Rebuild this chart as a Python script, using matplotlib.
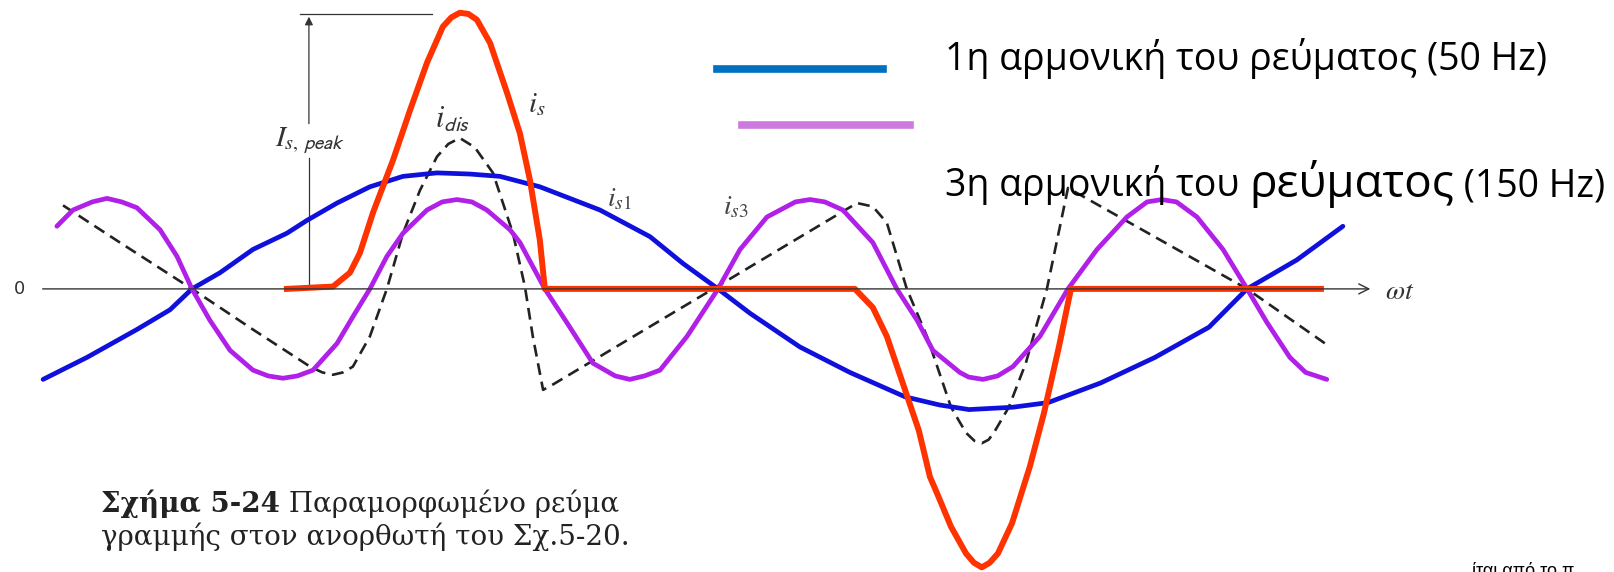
import matplotlib
matplotlib.use('Agg')
import matplotlib.pyplot as plt
from matplotlib.lines import Line2D

plt.rcParams['mathtext.fontset'] = 'stix'

# x: wt in degrees, y: current in p.u. of the fundamental peak
wt_s1 = [-50.8, -35.8, -18.8, -7.5, 0, 9.6, 20.8, 32.4, 39.2, 49.5, 60.7, 72.0, 83.6, 94.8,
         105.1, 118.7, 139.2, 156.3, 167.5, 179.5, 190.4, 207.4, 224.5, 243.3, 255.0, 265.1,
         280.0, 292.1, 310.1, 328.6, 347.0, 360.0, 377.0, 392.7]
i_s1 = [-0.78, -0.59, -0.35, -0.18, 0, 0.14, 0.34, 0.48, 0.59, 0.74, 0.88, 0.97, 1.00, 0.99,
        0.97, 0.88, 0.68, 0.45, 0.22, 0, -0.21, -0.50, -0.72, -0.93, -1.00, -1.04,
        -1.02, -0.98, -0.81, -0.59, -0.33, 0, 0.25, 0.54]

wt_s3 = [-46.1, -40.6, -34.0, -29.0, -24.0, -18.8, -10.9, -5.1, 0, 6.1, 13.0, 20.8, 26.0,
         31.0, 36.0, 41.3, 49.5, 54.9, 60.7, 66.5, 72.0, 80.2, 85.4, 90.4, 95.5, 100.6,
         108.5, 111.9, 120.4, 127.9, 136.8, 144.4, 149.4, 154.4, 159.7, 168.9, 179.5, 187.0,
         196.2, 205.9, 210.9, 215.9, 222.1, 232.3, 240.5, 247.4, 252.8, 262.0, 265.0, 269.9,
         274.9, 280.1, 289.3, 298.9, 308.8, 319.0, 325.9, 330.9, 335.9, 342.9, 351.8, 360.0,
         366.8, 374.6, 380.0, 387.2]
i_s3 = [0.54, 0.68, 0.75, 0.78, 0.75, 0.70, 0.51, 0.28, 0, -0.27, -0.53, -0.70, -0.75,
        -0.77, -0.75, -0.70, -0.47, -0.24, 0, 0.28, 0.48, 0.68, 0.75, 0.77, 0.75, 0.68,
        0.51, 0.40, 0, -0.29, -0.64, -0.75, -0.78, -0.75, -0.70, -0.41, 0, 0.34,
        0.62, 0.75, 0.77, 0.75, 0.68, 0.40, 0, -0.27, -0.53, -0.72, -0.76, -0.78,
        -0.75, -0.67, -0.41, 0, 0.34, 0.62, 0.75, 0.77, 0.75, 0.62, 0.34, 0,
        -0.29, -0.59, -0.72, -0.78]

wt_s = [32.4, 48.1, 53.9, 57.3, 61.8, 68.6, 74.4, 80.2, 85.6, 88.5, 91.4, 94.3, 97.2, 101.7,
        107.5, 111.9, 115.3, 118.7, 120.4, 226.2, 232.3, 237.1, 243.3, 248.0, 251.8, 254.2,
        259.0, 264.1, 266.8, 269.5, 272.2, 275.0, 279.8, 285.9, 290.7, 295.8, 299.9, 385.2]
i_s = [0, 0.02, 0.14, 0.31, 0.66, 1.11, 1.54, 1.95, 2.26, 2.34, 2.38, 2.37, 2.32, 2.12,
       1.69, 1.34, 0.94, 0.42, 0, 0, -0.16, -0.41, -0.87, -1.22, -1.62, -1.76,
       -2.05, -2.28, -2.36, -2.40, -2.36, -2.28, -2.02, -1.53, -1.07, -0.50, 0, 0]

wt_dis = [-44.0, -24.6, 0, 20.8, 40.3, 44.5, 48.1, 51.5, 54.9, 60.7, 66.5, 72.0, 77.8, 83.6,
          87.5, 91.4, 96.5, 102.7, 109.5, 113.6, 116.3, 119.8, 122.1, 226.9, 232.3, 237.1,
          243.9, 250.8, 259.0, 264.1, 267.0, 269.5, 271.8, 273.6, 278.7, 284.5, 291.7,
          298.9, 360.0, 388.3]
i_dis = [0.72, 0.40, 0, -0.35, -0.67, -0.72, -0.74, -0.72, -0.67, -0.41, 0, 0.48, 0.85, 1.14,
         1.25, 1.30, 1.22, 1.00, 0.48, 0.02, -0.41, -0.87, -0.84, 0.74, 0.71, 0.57,
         0, -0.41, -1.02, -1.24, -1.31, -1.33, -1.30, -1.24, -1.02, -0.64, 0,
         0.87, 0, -0.50]

is_peak = 2.37

fig = plt.figure(figsize=(16.14, 5.72), dpi=100)
ax = fig.add_axes([0, 0, 1, 1])
ax.set_xlim(-65.5, 485.2)
ax.set_ylim(-2.44, 2.49)
ax.axis('off')

# wt axis
ax.annotate('', xy=(403, 0), xytext=(-51.9, 0),
            arrowprops=dict(arrowstyle='->', color='#333333', lw=1.0, mutation_scale=18))
ax.text(-58.7, 0, '0', ha='center', va='center', fontsize=13, color='#333333')
ax.text(407, -0.02, r'$\omega t$', ha='left', va='center', fontsize=20, color='#333333')

# I_s,peak dimension
ax.plot([36.8, 81.9], [is_peak, is_peak], color='#333333', lw=0.9)
ax.plot([39.9, 39.9], [0, 1.13], color='#333333', lw=0.9)
ax.annotate('', xy=(39.9, is_peak), xytext=(39.9, 1.40),
            arrowprops=dict(arrowstyle='-|>', color='#333333', lw=0.9, mutation_scale=12))
ax.text(40.3, 1.28, r'$I_{s,\,\mathsf{peak}}$', ha='center', va='center', fontsize=21,
        color='#333333')

ax.plot(wt_dis, i_dis, color='#222222', lw=1.9, dashes=(4.5, 2.6))
ax.plot(wt_s1, i_s1, color='#1010DD', lw=3.4, solid_capstyle='round', solid_joinstyle='round')
ax.plot(wt_s3, i_s3, color='#B020E8', lw=3.4, solid_capstyle='round', solid_joinstyle='round')
ax.plot(wt_s, i_s, color='#FF3300', lw=4.3, solid_joinstyle='round')

ax.text(89.0, 1.47, r'$i_{\mathsf{dis}}$', ha='center', va='center', fontsize=22, color='#333333')
ax.text(117.7, 1.59, r'$i_s$', ha='center', va='center', fontsize=21, color='#333333')
ax.text(145.7, 0.78, r'$i_{s1}$', ha='center', va='center', fontsize=20, color='#444444')
ax.text(185.6, 0.71, r'$i_{s3}$', ha='center', va='center', fontsize=20, color='#444444')

# legend drawn by hand
fig.add_artist(Line2D([0.444, 0.547], [0.879, 0.879], color='#0070C0', lw=5.5))
fig.add_artist(Line2D([0.460, 0.564], [0.781, 0.781], color='#CC7ADD', lw=5.5))
leg_font = ['Open Sans', 'DejaVu Sans']
fig.text(0.5855, 0.897, '1η αρμονική του ρεύματος (50 Hz)', family=leg_font,
         fontsize=27, va='center', ha='left')
t2 = fig.text(0.5855, 0.676, '3η αρμονική του ', family=leg_font,
              fontsize=27, va='center', ha='left')
t3 = ax.annotate('ρεύματος', xy=(1, 0), xycoords=t2, xytext=(0, -2),
                 textcoords='offset points', family=leg_font, fontsize=33,
                 va='bottom', ha='left')
ax.annotate(' (150 Hz)', xy=(1, 0), xycoords=t3, xytext=(0, 2),
            textcoords='offset points', family=leg_font, fontsize=27,
            va='bottom', ha='left')

# caption
cap_font = ['DejaVu Serif']
c1 = fig.text(0.0626, 0.119, 'Σχήμα 5-24', family=cap_font, fontsize=20,
              fontweight='bold', color='#222222', va='center', ha='left')
ax.annotate(' Παραμορφωμένο ρεύμα', xy=(1, 0), xycoords=c1, family=cap_font,
            fontsize=20, color='#222222', va='bottom', ha='left')
fig.text(0.0626, 0.061, 'γραμμής στον ανορθωτή του Σχ.5-20.', family=cap_font,
         fontsize=20, color='#222222', va='center', ha='left')

fig.text(0.912, 0.016, 'ίται από το π', family=['Liberation Sans', 'DejaVu Sans'],
         fontsize=13, va='top', ha='left')

fig.savefig('out.png', dpi=100)
